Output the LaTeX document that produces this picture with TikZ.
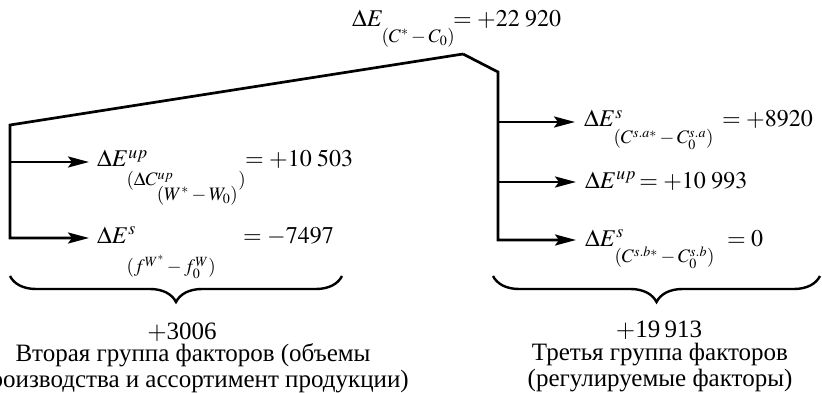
\documentclass[tikz,border=0pt]{standalone}
\usepackage{mathptmx}
\usepackage{fontspec}
\setmainfont{Liberation Serif}
\usetikzlibrary{arrows.meta, positioning, decorations.pathreplacing, calc}

% lowered subscripts, as in the printed formulas
\newcommand{\lowsub}[2]{\raisebox{-#1}{\fontsize{19}{19}\selectfont$#2$}}

\begin{document}
\begin{tikzpicture}[x=1pt, y=-1pt,
    arr/.style={line width=2.7pt, -{Stealth[length=21pt, width=11pt, inset=4pt]}},
    lbl/.style={anchor=base west, inner sep=0pt, font=\fontsize{24}{26}\selectfont},
    brc/.style={decorate, decoration={brace, mirror, amplitude=26pt}, line width=2.4pt},
    grptxt/.style={align=center, inner sep=0pt, font=\fontsize{25}{26}\selectfont}
  ]
  \useasboundingbox (0,0) rectangle (822,393);

  % total change
  \node[lbl] (total) at (352,27) {$\Delta E_{\lowsub{12pt}{(C^{*}-C_{0})}}$};
  \node[lbl] (vtotal) at (453,27) {$=+22\;920$};

  % trunk of the tree
  \coordinate (peak) at (463,54);
  \coordinate (lcor) at (10,125);
  \coordinate (rcor) at (498,72);
  \coordinate (lone) at (10,162);
  \coordinate (lbot) at (10,238);
  \coordinate (rone) at (498,122);
  \coordinate (rtwo) at (498,182);
  \coordinate (rbot) at (498,240);

  % second group
  \node[lbl] (lup) at (97,167) {$\Delta E^{up}_{\lowsub{13pt}{(\Delta C^{up}_{\lowsub{10pt}{(W^{*}-W_{0})}})}}$};
  \node[lbl] (vlup) at (245,167) {$=+10\;503$};
  \node[lbl] (ls) at (97,243) {$\Delta E^{s}_{\lowsub{24pt}{(f^{W^{*}}-f^{W}_{0})}}$};
  \node[lbl] (vls) at (243,243) {$=-7497$};

  % third group
  \node[lbl] (rsa) at (584,127) {$\Delta E^{s}_{\lowsub{11pt}{(C^{s.a*}-C^{s.a}_{0})}}$};
  \node[lbl] (vrsa) at (722,127) {$=+8920$};
  \node[lbl] (rup) at (585,188) {$\Delta E^{up}$};
  \node[lbl, right=3pt of rup.base east, anchor=base west] (vrup) {$=+10\;993$};
  \node[lbl] (rsb) at (585,246) {$\Delta E^{s}_{\lowsub{11pt}{(C^{s.b*}-C^{s.b}_{0})}}$};
  \node[lbl] (vrsb) at (727,246) {$=0$};

  \draw[arr] (peak) -- (lcor) -- (lbot) -- ([xshift=-8pt]lbot -| ls.west);
  \draw[arr] (lone) -- ([xshift=-8pt]lone -| lup.west);
  \draw[arr] (peak) -- (rcor) -- (rbot) -- ([xshift=-9pt]rbot -| rsb.west);
  \draw[arr] (rone) -- ([xshift=-9pt]rone -| rsa.west);
  \draw[arr] (rtwo) -- ([xshift=-9pt]rtwo -| rup.west);

  % braces and group totals
  \coordinate (blA) at (10,276);
  \coordinate (blB) at (342,276);
  \coordinate (brA) at (493,276);
  \coordinate (brB) at (820,276);
  \draw[brc] (blA) -- (blB);
  \draw[brc] (brA) -- (brB);

  \node[grptxt, anchor=base] (sumtwo) at (182,339) {$+$3006};
  \node[grptxt, anchor=north] (grptwo) at (193,343) {Вторая группа факторов (объемы\\производства и ассортимент продукции)};
  \node[grptxt, anchor=base] (sumthree) at (659,337) {$+$19\,913};
  \node[grptxt, anchor=north] (grpthree) at (660,343) {Третья группа факторов\\(регулируемые факторы)};
\end{tikzpicture}
\end{document}
